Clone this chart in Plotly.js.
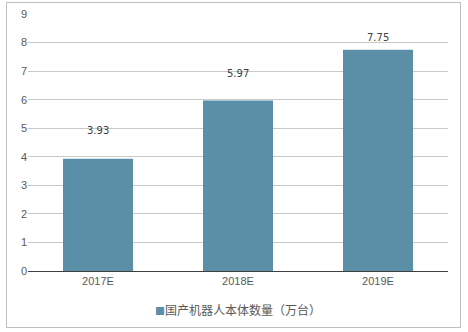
<!DOCTYPE html>
<html><head><meta charset="utf-8">
<script src="https://cdn.plot.ly/plotly-3.0.1.min.js"></script>
<style>
html,body{margin:0;padding:0;background:#fff;}
#wrap{position:relative;width:468px;height:332px;}
#frame{position:absolute;left:6px;top:2px;width:455px;height:326px;border:1px solid #bfbfbf;box-sizing:border-box;pointer-events:none;}
#chart{position:absolute;left:0;top:0;width:468px;height:332px;}
</style></head>
<body><div id="wrap"><div id="chart"></div><div id="frame"></div></div>
<script>
const categories = ["2017E","2018E","2019E"];
const values = [3.93, 5.97, 7.75];
const labels = ["3.93","5.97","7.75"];
const seriesName = "国产机器人本体数量（万台）";
const barColor = '#5b8fa7';

const labelShift = [28, 27, 12];
const annotations = categories.map((c,i)=>({
  x:c, y:values[i], xref:'x', yref:'y', text:labels[i], showarrow:false,
  yshift:labelShift[i], font:{family:'DejaVu Sans, sans-serif', size:10, color:'#404040'}
}));
annotations.push({
  xref:'paper', yref:'paper', x:0.5, y:-0.15, xanchor:'center', yanchor:'middle', showarrow:false,
  text:'<span style="color:'+barColor+';font-size:10px">■</span>'+seriesName,
  font:{family:'Noto Sans CJK SC, sans-serif', size:12, color:'#595959'}
});

Plotly.newPlot('chart',[{
  type:'bar', x:categories, y:values, name:seriesName,
  marker:{color:barColor}, hoverinfo:'none'
}],{
  width:468, height:332,
  margin:{l:28,r:20,t:14,b:61},
  paper_bgcolor:'#fff', plot_bgcolor:'#fff',
  bargap:0.5,
  showlegend:false,
  xaxis:{type:'category', showgrid:false, showline:true, linecolor:'#404040', linewidth:1,
    ticks:'', tickfont:{family:'Liberation Sans, Arial, sans-serif', size:11, color:'#595959'}, fixedrange:true},
  yaxis:{range:[0,9], dtick:1, showgrid:true, gridcolor:'#c8c8c8', gridwidth:1, zeroline:false,
    showline:false, ticks:'', ticklen:0,
    tickfont:{family:'Liberation Sans, Arial, sans-serif', size:11, color:'#595959'}, fixedrange:true},
  annotations:annotations
},{displayModeBar:false, staticPlot:true});
</script></body></html>
